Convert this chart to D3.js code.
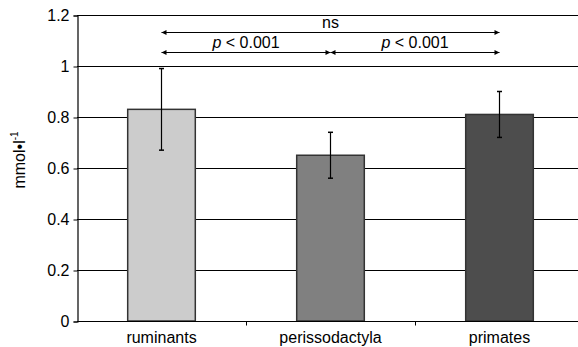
<!DOCTYPE html>
<html>
<head>
<meta charset="utf-8">
<script src="https://cdn.jsdelivr.net/npm/d3@7"></script>
<style>
  body { margin: 0; background: #fff; }
  text { font-family: "Liberation Sans", Arial, sans-serif; }
</style>
</head>
<body>
<div id="chart"></div>
<script>
var categories = ['ruminants', 'perissodactyla', 'primates'];
var means = [0.83, 0.65, 0.81];
var errLow = [0.67, 0.56, 0.72];
var errHigh = [0.99, 0.74, 0.90];
var barColors = ['#cccccc', '#808080', '#4d4d4d'];
var yTicks = [0, 0.2, 0.4, 0.6, 0.8, 1, 1.2];
var comparisons = [
  { from: 0, to: 2, label: 'ns', level: 1.135 },
  { from: 0, to: 1, label: 'p < 0.001', level: 1.055 },
  { from: 1, to: 2, label: 'p < 0.001', level: 1.055 }
];

(function() {
  var width = 578, height = 347;
  var plotLeft = 77, plotRight = 584, plotTop = 15, plotBottom = 321;
  var fontSize = 16;

  var svg = d3.select('#chart').append('svg')
    .attr('width', width).attr('height', height);

  svg.append('defs').append('marker')
    .attr('id', 'arr').attr('viewBox', '0 0 10 10')
    .attr('refX', 10).attr('refY', 5)
    .attr('markerWidth', 6).attr('markerHeight', 5)
    .attr('markerUnits', 'userSpaceOnUse')
    .attr('orient', 'auto-start-reverse')
    .append('path').attr('d', 'M0,0 L10,5 L0,10 z').attr('fill', '#000');

  var x = d3.scaleBand().domain(categories).range([plotLeft, plotRight])
    .paddingInner(0.6).paddingOuter(0.3);
  var xc = d3.scalePoint().domain(categories).range([plotLeft, plotRight]).padding(0.5);
  var y = d3.scaleLinear().domain([0, 1.2]).range([plotBottom, plotTop]);

  // grid lines
  svg.append('g').selectAll('line').data(yTicks).enter().append('line')
    .attr('x1', plotLeft).attr('x2', width)
    .attr('y1', function(d) { return Math.round(y(d)) + 0.5; })
    .attr('y2', function(d) { return Math.round(y(d)) + 0.5; })
    .attr('stroke', '#000').attr('stroke-width', 1.2);

  // y axis
  var yAxis = svg.append('g')
    .attr('transform', 'translate(' + (plotLeft + 0.5) + ',0.5)')
    .call(d3.axisLeft(y).tickValues(yTicks).tickSize(4).tickPadding(4)
      .tickFormat(function(d) { return d3.format('')(d); }));
  yAxis.select('.domain').attr('stroke', '#000').attr('stroke-width', 1.2);
  yAxis.selectAll('.tick line').attr('stroke', '#000');
  yAxis.selectAll('text').attr('font-size', fontSize).attr('fill', '#000')
    .attr('font-family', '"Liberation Sans", Arial, sans-serif');

  // bars
  svg.append('g').selectAll('rect').data(categories).enter().append('rect')
    .attr('x', function(d) { return x(d); })
    .attr('width', x.bandwidth())
    .attr('y', function(d, i) { return y(means[i]); })
    .attr('height', function(d, i) { return y(0) - y(means[i]); })
    .attr('fill', function(d, i) { return barColors[i]; })
    .attr('stroke', '#333').attr('stroke-width', 1.5);

  // error bars
  var eb = svg.append('g').selectAll('g').data(categories).enter().append('g');
  eb.append('line')
    .attr('x1', function(d) { return xc(d); }).attr('x2', function(d) { return xc(d); })
    .attr('y1', function(d, i) { return y(errLow[i]); })
    .attr('y2', function(d, i) { return y(errHigh[i]); })
    .attr('stroke', '#000').attr('stroke-width', 1.2);
  [errLow, errHigh].forEach(function(arr) {
    eb.append('line')
      .attr('x1', function(d) { return xc(d) - 2.5; }).attr('x2', function(d) { return xc(d) + 2.5; })
      .attr('y1', function(d, i) { return y(arr[i]); })
      .attr('y2', function(d, i) { return y(arr[i]); })
      .attr('stroke', '#000').attr('stroke-width', 1.5);
  });

  // x axis
  var xAxisG = svg.append('g').attr('transform', 'translate(0,' + (Math.round(y(0)) + 0.5) + ')');
  xAxisG.append('line').attr('x1', plotLeft).attr('x2', width)
    .attr('stroke', '#000').attr('stroke-width', 1.2);
  var step = x.step();
  xAxisG.selectAll('.sep').data(categories.slice(1)).enter().append('line')
    .attr('x1', function(d) { return Math.round(xc(d) - step / 2) + 0.5; })
    .attr('x2', function(d) { return Math.round(xc(d) - step / 2) + 0.5; })
    .attr('y1', 0).attr('y2', 4).attr('stroke', '#000');
  xAxisG.selectAll('.lab').data(categories).enter().append('text')
    .attr('x', function(d) { return xc(d); }).attr('y', 21)
    .attr('text-anchor', 'middle').attr('font-size', fontSize).attr('fill', '#000')
    .text(function(d) { return d; });

  // comparison arrows
  var cmp = svg.append('g').selectAll('g').data(comparisons).enter().append('g');
  cmp.append('line')
    .attr('x1', function(d) { return xc(categories[d.from]); })
    .attr('x2', function(d) { return xc(categories[d.to]); })
    .attr('y1', function(d) { return Math.round(y(d.level)) + 0.5; })
    .attr('y2', function(d) { return Math.round(y(d.level)) + 0.5; })
    .attr('stroke', '#000').attr('stroke-width', 1)
    .attr('marker-start', 'url(#arr)').attr('marker-end', 'url(#arr)');
  var ct = cmp.append('text')
    .attr('x', function(d) { return (xc(categories[d.from]) + xc(categories[d.to])) / 2; })
    .attr('y', function(d) { return y(d.level) - 4; })
    .attr('text-anchor', 'middle').attr('font-size', fontSize).attr('fill', '#000');
  ct.each(function(d) {
    var t = d3.select(this);
    if (d.label.indexOf('p ') === 0) {
      t.append('tspan').attr('font-style', 'italic').text('p');
      t.append('tspan').text(d.label.slice(1));
    } else {
      t.text(d.label);
    }
  });

  // y label
  var yl = svg.append('text')
    .attr('transform', 'translate(25,160) rotate(-90)')
    .attr('text-anchor', 'middle').attr('font-size', fontSize).attr('fill', '#000');
  yl.append('tspan').text('mmol\u2022l');
  yl.append('tspan').attr('font-size', 10).attr('dy', -7).text('-1');
})();
</script>
</body>
</html>
